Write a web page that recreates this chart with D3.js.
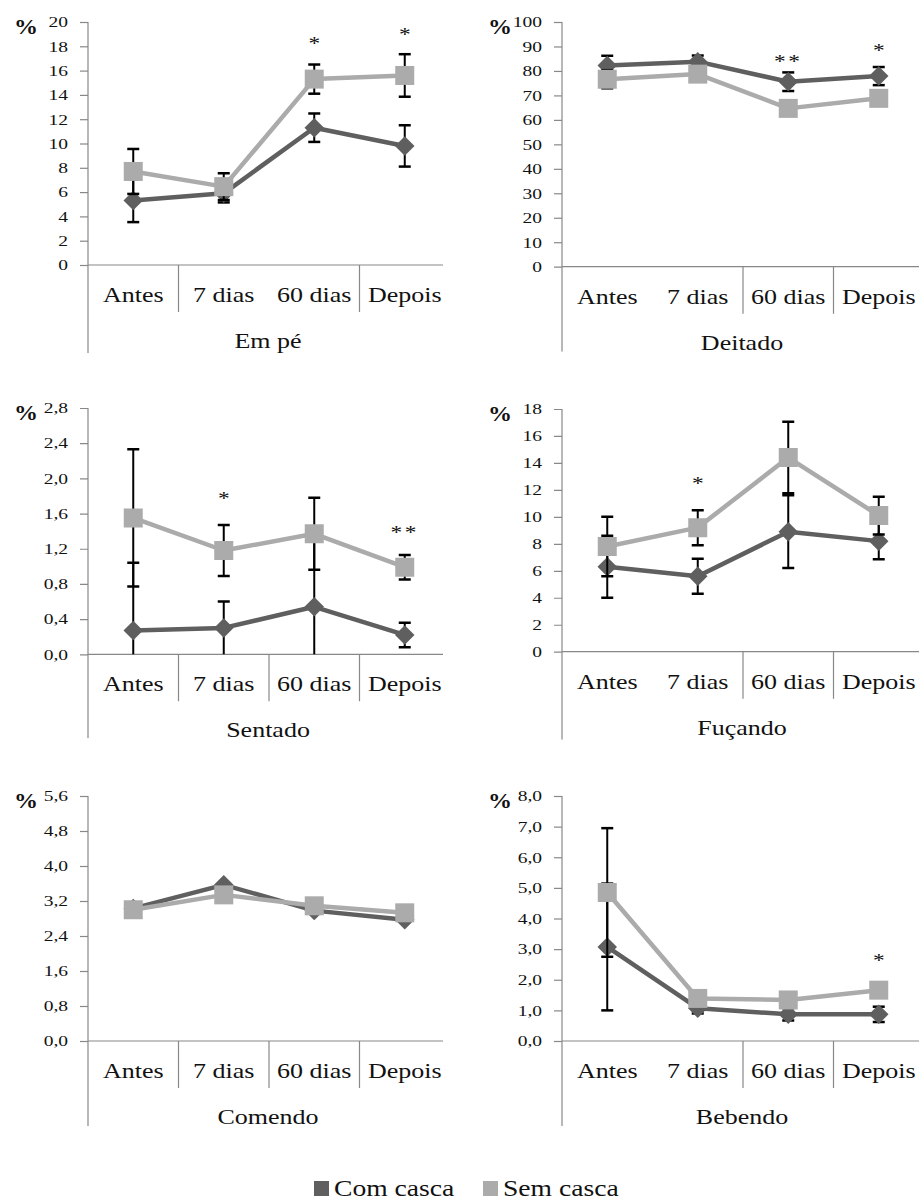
<!DOCTYPE html>
<html><head><meta charset="utf-8">
<script src="https://cdn.jsdelivr.net/npm/d3@7"></script>
<style>
body{margin:0;background:#fff}
svg{display:block}
svg text{font-family:'Liberation Serif','DejaVu Serif','Times New Roman',Times,serif !important;fill:#111}
</style>
</head><body>
<svg id="c" width="919" height="1201"></svg>
<script>
// ---------- DATA ----------
const categories = ["Antes", "7 dias", "60 dias", "Depois"];
const seriesNames = ["Com casca", "Sem casca"];

// Em pé
const emPeCom = [5.3, 5.9, 11.3, 9.8];
const emPeComErr = [1.77, 0.75, 1.17, 1.7];
const emPeSem = [7.7, 6.45, 15.3, 15.6];
const emPeSemErr = [1.85, 1.1, 1.2, 1.75];
const emPeSig = ["", "", "*", "*"];
const emPeSigY = [null, null, 18.5, 19.25];
const emPeTicks = [0, 2, 4, 6, 8, 10, 12, 14, 16, 18, 20];

// Deitado
const deitadoCom = [82.2, 83.8, 75.6, 77.9];
const deitadoComErr = [4.0, 2.5, 3.8, 3.7];
const deitadoSem = [76.6, 78.7, 64.7, 68.8];
const deitadoSemErr = [3.7, 2.5, 2.5, 2.5];
const deitadoSig = ["", "", "**", "*"];
const deitadoSigY = [null, null, 85.2, 89.9];
const deitadoTicks = [0, 10, 20, 30, 40, 50, 60, 70, 80, 90, 100];

// Sentado
const sentadoCom = [0.27, 0.30, 0.54, 0.22];
const sentadoComErr = [0.77, 0.30, 0.85, 0.14];
const sentadoSem = [1.55, 1.18, 1.37, 0.99];
const sentadoSemErr = [0.78, 0.29, 0.41, 0.14];
const sentadoSig = ["", "*", "", "**"];
const sentadoSigY = [null, 1.81, null, 1.43];
const sentadoTicks = [0, 0.4, 0.8, 1.2, 1.6, 2.0, 2.4, 2.8];

// Fuçando
const fucandoCom = [6.3, 5.6, 8.9, 8.2];
const fucandoComErr = [2.3, 1.3, 2.7, 1.35];
const fucandoSem = [7.8, 9.2, 14.4, 10.1];
const fucandoSemErr = [2.2, 1.3, 2.65, 1.4];
const fucandoSig = ["", "*", "", ""];
const fucandoSigY = [null, 12.74, null, null];
const fucandoTicks = [0, 2, 4, 6, 8, 10, 12, 14, 16, 18];

// Comendo
const comendoCom = [3.03, 3.57, 2.98, 2.77];
const comendoComErr = [0, 0, 0, 0];
const comendoSem = [3.0, 3.34, 3.09, 2.93];
const comendoSemErr = [0, 0, 0, 0];
const comendoSig = ["", "", "", ""];
const comendoSigY = [null, null, null, null];
const comendoTicks = [0, 0.8, 1.6, 2.4, 3.2, 4.0, 4.8, 5.6];

// Bebendo
const bebendoCom = [3.07, 1.07, 0.87, 0.87];
const bebendoComErr = [2.07, 0.17, 0.2, 0.25];
const bebendoSem = [4.85, 1.39, 1.34, 1.66];
const bebendoSemErr = [2.1, 0.2, 0.2, 0.2];
const bebendoSig = ["", "", "", "*"];
const bebendoSigY = [null, null, null, 2.75];
const bebendoTicks = [0, 1, 2, 3, 4, 5, 6, 7, 8];

// ---------- LAYOUT ----------
const FONT = "'Liberation Serif','DejaVu Serif','Times New Roman',Times,serif";
const colors = ["#5f5f5f", "#ababab"];
const axisColor = "#888";
const SX = 1.3; // horizontal stretch of the original image text

const panels = [
  {title:"Em pé",   com:emPeCom, comErr:emPeComErr, sem:emPeSem, semErr:emPeSemErr, sig:emPeSig, sigY:emPeSigY, ticks:emPeTicks, dec:0, ax:88,  top:22,  zero:265,   xEnd:443, seps:[0,2],   bottom:88},
  {title:"Deitado", com:deitadoCom, comErr:deitadoComErr, sem:deitadoSem, semErr:deitadoSemErr, sig:deitadoSig, sigY:deitadoSigY, ticks:deitadoTicks, dec:0, ax:562, top:22, zero:266.7, xEnd:919, seps:[1,2], bottom:85},
  {title:"Sentado", com:sentadoCom, comErr:sentadoComErr, sem:sentadoSem, semErr:sentadoSemErr, sig:sentadoSig, sigY:sentadoSigY, ticks:sentadoTicks, dec:1, ax:88, top:408, zero:654.3, xEnd:443, seps:[0,1,2], bottom:84},
  {title:"Fuçando", com:fucandoCom, comErr:fucandoComErr, sem:fucandoSem, semErr:fucandoSemErr, sig:fucandoSig, sigY:fucandoSigY, ticks:fucandoTicks, dec:0, ax:562, top:409, zero:651.7, xEnd:919, seps:[1,2], bottom:88},
  {title:"Comendo", com:comendoCom, comErr:comendoComErr, sem:comendoSem, semErr:comendoSemErr, sig:comendoSig, sigY:comendoSigY, ticks:comendoTicks, dec:1, ax:88, top:796, zero:1041, xEnd:443, seps:[0,1,2], bottom:85},
  {title:"Bebendo", com:bebendoCom, comErr:bebendoComErr, sem:bebendoSem, semErr:bebendoSemErr, sig:bebendoSig, sigY:bebendoSigY, ticks:bebendoTicks, dec:1, ax:562, top:796, zero:1041, xEnd:919, seps:[1,2], bottom:85}
];

const svg = d3.select("#c").attr("font-family", FONT);
const defs = svg.append("defs");
const fmtComma = dec => v => d3.format("." + dec + "f")(v).replace(".", ",");

function stretchText(g, x, y, str, size, anchor, sx, weight) {
  return g.append("text")
    .attr("transform", `translate(${x},${y}) scale(${sx},1)`)
    .attr("text-anchor", anchor)
    .attr("font-family", FONT)
    .attr("font-size", size)
    .attr("font-weight", weight || "normal")
    .text(str);
}

panels.forEach((p, pi) => {
  const clipId = "clip" + pi;
  defs.append("clipPath").attr("id", clipId)
    .append("rect").attr("x", p.ax - 90).attr("y", p.top - 30)
    .attr("width", 460).attr("height", p.zero + p.bottom - (p.top - 30));

  const g = svg.append("g").attr("clip-path", `url(#${clipId})`);

  const x = d3.scaleBand().domain(categories).range([p.ax, p.ax + 4 * 90.5]).padding(0);
  const cx = c => x(c) + x.bandwidth() / 2;
  const y = d3.scaleLinear().domain([0, d3.max(p.ticks)]).range([p.zero, p.top]);

  // y axis
  const yAxis = d3.axisLeft(y).tickValues(p.ticks).tickSize(8).tickSizeOuter(0)
    .tickPadding(12).tickFormat(fmtComma(p.dec));
  const ag = g.append("g").attr("transform", `translate(${p.ax},0)`).call(yAxis);
  ag.attr("font-family", FONT);
  ag.select(".domain").remove();
  ag.selectAll(".tick line").attr("stroke", axisColor).attr("stroke-width", 1.2);
  ag.selectAll(".tick text")
    .attr("font-family", FONT)
    .attr("font-size", 15).attr("fill", "#111")
    .attr("x", -20 / SX).attr("transform", `scale(${SX},1)`);

  // axis lines
  g.append("line").attr("x1", p.ax).attr("x2", p.ax)
    .attr("y1", p.top).attr("y2", p.zero + p.bottom)
    .attr("stroke", axisColor).attr("stroke-width", 1.2);
  g.append("line").attr("x1", p.ax).attr("x2", p.xEnd)
    .attr("y1", p.zero).attr("y2", p.zero)
    .attr("stroke", axisColor).attr("stroke-width", 1.2);
  // category separators
  p.seps.forEach(i => {
    const sx = x(categories[i + 1]);
    g.append("line").attr("x1", sx).attr("x2", sx)
      .attr("y1", p.zero).attr("y2", p.zero + 47)
      .attr("stroke", axisColor).attr("stroke-width", 1.2);
  });
  // category labels
  categories.forEach(c => stretchText(g, cx(c), p.zero + 37, c, 20, "middle", SX));
  // title
  stretchText(g, p.ax + 180, p.zero + 83, p.title, 20, "middle", SX);
  // percent sign
  stretchText(g, p.ax - 74, p.top + 12, "%", 20, "start", 1.2, "bold");

  // series
  const series = [
    {vals: p.com, errs: p.comErr, color: colors[0], shape: "diamond"},
    {vals: p.sem, errs: p.semErr, color: colors[1], shape: "square"}
  ];
  const maxV = d3.max(p.ticks);
  series.forEach(s => {
    const data = categories.map((c, i) => ({c, v: s.vals[i], e: s.errs[i]}));
    // error bars
    const eg = g.append("g");
    data.filter(d => d.e > 0).forEach(d => {
      const lo = Math.max(0, d.v - d.e), hi = Math.min(maxV, d.v + d.e);
      const xx = cx(d.c);
      eg.append("line").attr("x1", xx).attr("x2", xx).attr("y1", y(lo)).attr("y2", y(hi))
        .attr("stroke", "#000").attr("stroke-width", 2);
      [d.v - d.e, d.v + d.e].forEach(ev => {
        if (ev > 0 && ev <= maxV) {
          eg.append("line").attr("x1", xx - 6).attr("x2", xx + 6)
            .attr("y1", y(ev)).attr("y2", y(ev))
            .attr("stroke", "#000").attr("stroke-width", 2.5);
        }
      });
    });
    // line
    g.append("path").datum(data)
      .attr("fill", "none").attr("stroke", s.color).attr("stroke-width", 4.5)
      .attr("stroke-linejoin", "round")
      .attr("d", d3.line().x(d => cx(d.c)).y(d => y(d.v)));
    // markers
    const sym = s.shape === "square"
      ? d3.symbol(d3.symbolSquare, 361)
      : d3.symbol(d3.symbolSquare, 190);
    g.selectAll(null).data(data).enter().append("path")
      .attr("d", sym)
      .attr("transform", d => `translate(${cx(d.c)},${y(d.v)})` + (s.shape === "diamond" ? " rotate(45)" : ""))
      .attr("fill", s.color);
  });

  // significance asterisks
  categories.forEach((c, i) => {
    if (p.sig[i]) {
      g.append("text")
        .attr("transform", `translate(${cx(c)},${y(p.sigY[i]) + 10}) scale(${SX},1)`)
        .attr("text-anchor", "middle").attr("font-size", 18)
        .attr("font-family", FONT)
        .attr("letter-spacing", p.sig[i].length > 1 ? 2 : 0)
        .text(p.sig[i]);
    }
  });
});

// legend
const lg = svg.append("g");
const legendX = [314, 483];
seriesNames.forEach((n, i) => {
  lg.append("rect").attr("x", legendX[i]).attr("y", 1181).attr("width", 15).attr("height", 15)
    .attr("fill", colors[i]);
  stretchText(lg, legendX[i] + 20, 1196, n, 23, "start", 1.2);
});
</script>
</body></html>
